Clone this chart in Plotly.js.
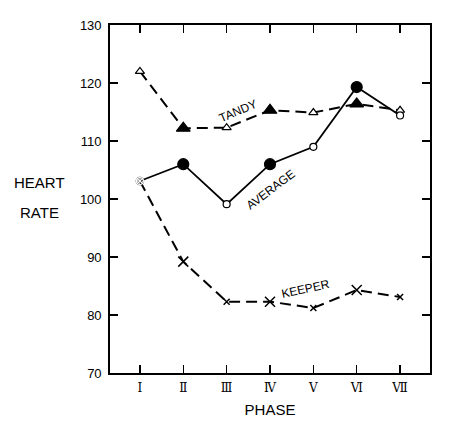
<!DOCTYPE html>
<html>
<head>
<meta charset="utf-8">
<script src="https://cdn.plot.ly/plotly-3.0.1.min.js"></script>
<style>html,body{margin:0;padding:0;background:#fff;}#chart{width:454px;height:428px;}</style>
</head>
<body>
<div id="chart"></div>
<script>
// Data
const phases = ['Ⅰ', 'Ⅱ', 'Ⅲ', 'Ⅳ', 'Ⅴ', 'Ⅵ', 'Ⅶ'];
const tandy = [122, 112.2, 112.3, 115.3, 114.9, 116.4, 115.3];
const average = [103.1, 106, 99.1, 106, 109, 119.3, 114.4];
const keeper = [103.1, 89.2, 82.3, 82.3, 81.2, 84.3, 83.1];
const yTicks = [70, 80, 90, 100, 110, 120, 130];

// Styles
const tandySymbols = ['triangle-up', 'triangle-up', 'triangle-up', 'triangle-up', 'triangle-up', 'triangle-up', 'triangle-up'];
const tandyFill = ['#fff', '#000', '#fff', '#000', '#fff', '#000', '#fff'];
const tandySize = [8, 12, 8, 12, 8, 12, 8];
const avgSymbols = ['circle-x-open', 'circle', 'circle', 'circle', 'circle', 'circle', 'circle'];
const avgFill = ['#fff', '#000', '#fff', '#000', '#fff', '#000', '#fff'];
const avgSize = [7, 11, 7, 11, 7, 11, 7];
const keeperSymbols = ['circle-x-open', 'x-thin-open', 'x-thin-open', 'x-thin-open', 'x-thin-open', 'x-thin-open', 'x-thin-open'];
const keeperSize = [7, 10, 6, 10, 6, 10, 6];

const traces = [
  {
    x: phases, y: keeper, type: 'scatter', mode: 'lines+markers', name: 'KEEPER',
    line: {color: '#000', width: 2, dash: '11px,6px'},
    marker: {symbol: keeperSymbols, size: keeperSize, color: '#000', opacity: 1, line: {color: '#000', width: 1.5}}
  },
  {
    x: phases, y: tandy, type: 'scatter', mode: 'lines+markers', name: 'TANDY',
    line: {color: '#000', width: 2, dash: '11px,6px'},
    marker: {symbol: tandySymbols, size: tandySize, color: tandyFill, opacity: 1, line: {color: '#000', width: 1.2}}
  },
  {
    x: phases, y: average, type: 'scatter', mode: 'lines+markers', name: 'AVERAGE',
    line: {color: '#000', width: 1.8},
    marker: {symbol: avgSymbols, size: avgSize, color: avgFill, opacity: 1, line: {color: '#000', width: 1.2}}
  }
];

const font = 'Liberation Sans, Arial, sans-serif';
const layout = {
  width: 454, height: 428,
  margin: {l: 110, r: 24, t: 25, b: 55},
  paper_bgcolor: '#fff', plot_bgcolor: '#fff',
  showlegend: false,
  font: {family: font, color: '#000', size: 13},
  xaxis: {
    type: 'category', range: [-0.69, 6.69],
    showgrid: false, zeroline: false,
    showline: true, linecolor: '#000', linewidth: 1.8, mirror: 'ticks',
    ticks: 'inside', ticklen: 8, tickwidth: 1.5, tickcolor: '#000',
    tickfont: {family: 'DejaVu Serif, serif', size: 12},
    ticklabelstandoff: 3,
    title: {text: 'PHASE', font: {family: font, size: 15}, standoff: 10}
  },
  yaxis: {
    range: [70, 130], tickvals: yTicks,
    showgrid: false, zeroline: false,
    showline: true, linecolor: '#000', linewidth: 1.8, mirror: 'ticks',
    ticks: 'inside', ticklen: 8, tickwidth: 1.5, tickcolor: '#000',
    tickfont: {family: font, size: 13},
    ticklabelstandoff: 4
  },
  annotations: [
    {xref: 'paper', yref: 'paper', x: -0.219, y: 0.546, text: 'HEART', showarrow: false, font: {family: font, size: 15}, xanchor: 'center', yanchor: 'middle'},
    {xref: 'paper', yref: 'paper', x: -0.219, y: 0.46, text: 'RATE', showarrow: false, font: {family: font, size: 15}, xanchor: 'center', yanchor: 'middle'},
    {x: 2.26, y: 115.2, text: 'TANDY', showarrow: false, textangle: -23, font: {family: font, size: 12}},
    {x: 3.0, y: 101.6, text: 'AVERAGE', showarrow: false, textangle: -37, font: {family: font, size: 12}},
    {x: 3.81, y: 84.5, text: 'KEEPER', showarrow: false, textangle: -12, font: {family: font, size: 12}}
  ]
};

Plotly.newPlot('chart', traces, layout, {displayModeBar: false, staticPlot: true});
</script>
</body>
</html>
